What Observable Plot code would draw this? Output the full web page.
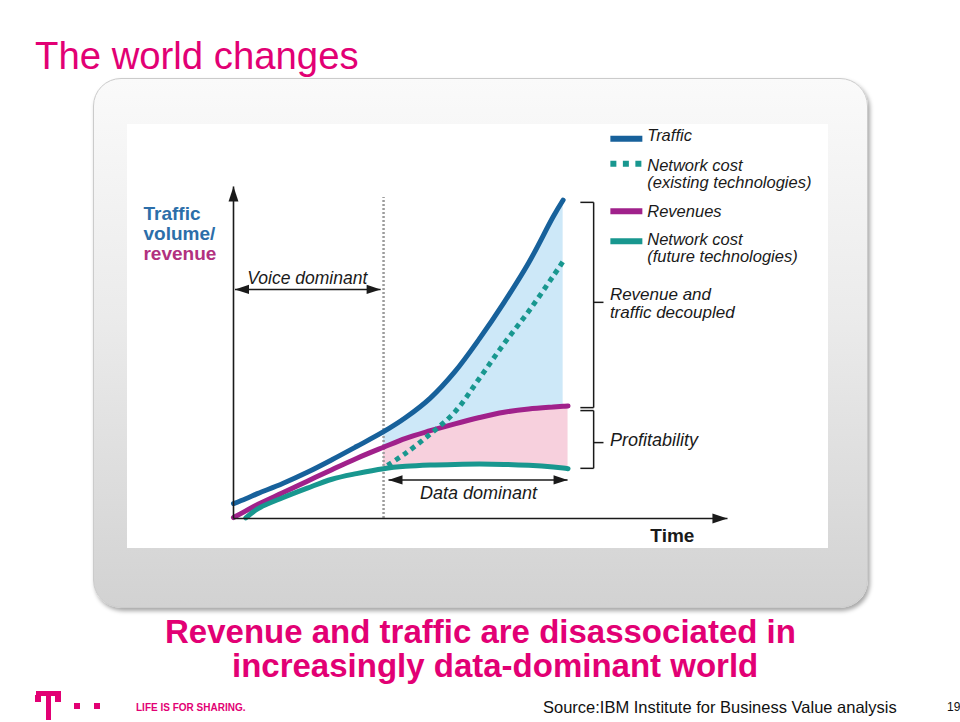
<!DOCTYPE html>
<html>
<head>
<meta charset="utf-8">
<script src="https://cdn.jsdelivr.net/npm/d3@7"></script>
<script src="https://cdn.jsdelivr.net/npm/@observablehq/plot@0.6"></script>
<style>
html, body { margin: 0; padding: 0; background: #fff; }
#page { position: relative; width: 960px; height: 722px; overflow: hidden; font-family: "Liberation Sans", Arial, sans-serif; }
.abs { position: absolute; line-height: 1; white-space: nowrap; }
#title { left: 35px; top: 37px; font-size: 38.3px; color: #e20074; }
#frame { left: 93px; top: 78px; width: 775px; height: 530px; border-radius: 28px; box-sizing: border-box;
  background: linear-gradient(#fafafa, #ebebeb 45%, #d2d2d2); border: 1px solid #cbcbcb;
  box-shadow: 2px 3px 4px rgba(0,0,0,0.35); }
#panel { left: 127px; top: 124px; width: 701px; height: 424px; background: #fff; }
#caption { left: 165px; top: 615px; font-size: 33px; line-height: 34px; font-weight: bold; color: #e20074; }
#caption .l2 { margin-left: 67px; }
#slogan { left: 136px; top: 702.5px; font-size: 10px; font-weight: bold; color: #e20074; }
#source { left: 543px; top: 699px; font-size: 16.5px; color: #111; }
#pageno { left: 947px; top: 701px; font-size: 12px; color: #111; }
.logo { position: absolute; background: #e20074; }
</style>
</head>
<body>
<div id="page">
  <div id="title" class="abs">The world changes</div>
  <div id="frame" class="abs"></div>
  <div id="panel" class="abs"></div>
  <div id="caption" class="abs">Revenue and traffic are disassociated in<br><span class="l2">increasingly data-dominant world</span></div>
  <div class="logo" style="left:36px;top:691px;width:25px;height:5px"></div>
  <div class="logo" style="left:35px;top:695px;width:6px;height:7px"></div>
  <div class="logo" style="left:55px;top:695px;width:6px;height:7px"></div>
  <div class="logo" style="left:45.5px;top:691px;width:5.5px;height:29px"></div>
  <div class="logo" style="left:74px;top:703px;width:6px;height:6px"></div>
  <div class="logo" style="left:94px;top:703px;width:6px;height:6px"></div>
  <div id="slogan" class="abs">LIFE IS FOR SHARING.</div>
  <div id="source" class="abs">Source:IBM Institute for Business Value analysis</div>
  <div id="pageno" class="abs">19</div>
</div>
<script>
// ---- Data (time and value on a 0–100 relative scale) ----
const time       = [0, 2.5, 5, 10, 15, 20, 25, 30.5, 35, 40, 45, 50, 55, 60, 65, 67, 68];
const traffic    = [4.5, 6.0, 7.6, 10.6, 14.0, 17.8, 21.8, 26.3, 30.6, 36.5, 44.5, 54.5, 65.5, 77.5, 91.5, 96.5, null];
const revenues   = [0.3, 2.3, 4.3, 7.8, 11.3, 14.8, 18.2, 21.6, 24.3, 26.6, 28.7, 30.6, 32.2, 33.2, 33.8, 34.0, 34.1];
const costFuture = [null, 0.2, 3.0, 6.3, 9.2, 11.9, 13.6, 15.1, 15.8, 16.2, 16.4, 16.5, 16.4, 16.1, 15.6, 15.3, 15.1];
const existingTime = [31.3, 35, 40, 45, 50, 55, 60, 65, 67.1];
const costExisting = [16.1, 19.8, 25.6, 32.3, 42.5, 53.0, 62.8, 73.5, 78.2];
const voiceDataSplit = 30.5;

const seriesNames = ["Traffic", "Network cost\n(existing technologies)", "Revenues", "Network cost\n(future technologies)"];
const yLabelLines = ["Traffic", "volume/", "revenue"];
const eraLabels = ["Voice dominant", "Data dominant"];
const bracketLabels = ["Revenue and\ntraffic decoupled", "Profitability"];
const xLabel = "Time";

// ---- Styles ----
const C = {
  traffic: "#17619b", revenue: "#a0218b", teal: "#18978f",
  blueFill: "#cde8f8", pinkFill: "#f7d0dd", ink: "#1a1a1a",
  labelBlue: "#2c6ea9", labelMagenta: "#b2317f", split: "#9c9c9c"
};
const FONT = "'Liberation Sans', Arial, sans-serif";
const CURVE = "catmull-rom";

// ---- Tables built from the arrays ----
const rows = time.map((t, i) => ({time: t, traffic: traffic[i], revenue: revenues[i], future: costFuture[i]}));
const existingRows = existingTime.map((t, i) => ({time: t, cost: costExisting[i]}));

// ---- Annotation layout (in scale units) ----
const arrows = [
  {x1: 0, y1: 0, x2: 0, y2: 100.6, w: 1.6, heads: [["up", 0, 100.6]], big: true},
  {x1: 0, y1: 0, x2: 100.4, y2: 0, w: 1.6, heads: [["right", 100.4, 0]], big: true},
  {x1: 0.3, y1: 69.4, x2: 29.9, y2: 69.4, w: 1.5, heads: [["left", 0.3, 69.4], ["right", 29.9, 69.4]], big: false},
  {x1: 31.5, y1: 11.7, x2: 67.9, y2: 11.7, w: 1.5, heads: [["left", 31.5, 11.7], ["right", 67.9, 11.7]], big: false}
];
const heads = arrows.flatMap(a => a.heads.map(([dir, x, y]) => ({dir, x, y, big: a.big})));

const brackets = [
  {x: 73.2, arm: 70.5, tick: 75.2, top: 95.8, bottom: 33.6, mid: 65.5},
  {x: 73.2, arm: 70.5, tick: 75.2, top: 32.7, bottom: 15.2, mid: 23.0}
];
const bracketSegs = brackets.flatMap(b => [
  {x1: b.arm, y1: b.top, x2: b.x, y2: b.top},
  {x1: b.x, y1: b.top, x2: b.x, y2: b.bottom},
  {x1: b.arm, y1: b.bottom, x2: b.x, y2: b.bottom},
  {x1: b.x, y1: b.mid, x2: b.tick, y2: b.mid}
]);

const legend = [
  {label: seriesNames[0], color: C.traffic, dash: null, y: 115.1, base: 114.5},
  {label: seriesNames[1], color: C.teal, dash: "6,6.5", y: 107.5, base: 100.3},
  {label: seriesNames[2], color: C.revenue, dash: null, y: 93.1, base: 91.5},
  {label: seriesNames[3], color: C.teal, dash: null, y: 84.0, base: 77.6}
];
const legendX1 = 76.6, legendX2 = 83.1, legendTextX = 84.1;

function head(dir) {
  return {
    draw(ctx, size) {
      const r = Math.sqrt(size / Math.PI);
      const L = r * 2, w = r * 0.66;
      const p = {
        right: [[0, 0], [-L, -w], [-L, w]],
        left: [[0, 0], [L, -w], [L, w]],
        up: [[0, 0], [-w, L], [w, L]]
      }[dir];
      ctx.moveTo(p[0][0], p[0][1]);
      ctx.lineTo(p[1][0], p[1][1]);
      ctx.lineTo(p[2][0], p[2][1]);
      ctx.closePath();
    }
  };
}
const headMarks = [];
for (const dir of ["up", "right", "left"]) {
  for (const big of [true, false]) {
    const sel = heads.filter(d => d.dir === dir && d.big === big);
    if (sel.length) headMarks.push(Plot.dot(sel, {x: "x", y: "y", r: big ? 7.5 : 7, symbol: head(dir), fill: C.ink, stroke: "none"}));
  }
}

const textBase = {fontFamily: FONT, fill: C.ink};

const chart = Plot.plot({
  width: 701,
  height: 424,
  x: {domain: [0, 100], range: [106, 598], axis: null},
  y: {domain: [0, 100], range: [394, 64], axis: null},
  style: {background: "transparent", overflow: "visible", fontFamily: FONT},
  marks: [
    // filled gaps
    Plot.areaY(rows.filter(d => d.time >= voiceDataSplit && d.traffic != null),
      {x: "time", y1: "revenue", y2: "traffic", fill: C.blueFill, curve: CURVE}),
    Plot.areaY(rows.filter(d => d.time >= voiceDataSplit),
      {x: "time", y1: "future", y2: "revenue", fill: C.pinkFill, curve: CURVE}),
    // voice/data split
    Plot.ruleX([voiceDataSplit], {y1: 0, y2: 97.3, stroke: C.split, strokeWidth: 2.5, strokeDasharray: "2,2"}),
    // series
    Plot.line(rows, {x: "time", y: "revenue", stroke: C.revenue, strokeWidth: 5, curve: CURVE}),
    Plot.line(rows, {x: "time", y: "traffic", stroke: C.traffic, strokeWidth: 5, curve: CURVE}),
    Plot.line(rows, {x: "time", y: "future", stroke: C.teal, strokeWidth: 5, curve: CURVE}),
    Plot.line(existingRows, {x: "time", y: "cost", stroke: C.teal, strokeWidth: 5, strokeDasharray: "5,4.5", strokeLinecap: "butt", curve: CURVE}),
    // axes and arrows
    Plot.link(arrows, {x1: "x1", y1: "y1", x2: "x2", y2: "y2", stroke: C.ink, strokeWidth: d => d.w}),
    ...headMarks,
    // brackets
    Plot.link(bracketSegs, {x1: "x1", y1: "y1", x2: "x2", y2: "y2", stroke: C.ink, strokeWidth: 1.5}),
    // y label
    Plot.text([yLabelLines[0]], {x: -18.3, y: 90.6, text: d => d, textAnchor: "start", lineAnchor: "bottom", fontSize: 19, fontWeight: "bold", fontFamily: FONT, fill: C.labelBlue}),
    Plot.text([yLabelLines[1]], {x: -18.3, y: 84.5, text: d => d, textAnchor: "start", lineAnchor: "bottom", fontSize: 19, fontWeight: "bold", fontFamily: FONT, fill: C.labelBlue}),
    Plot.text([yLabelLines[2]], {x: -18.3, y: 78.4, text: d => d, textAnchor: "start", lineAnchor: "bottom", fontSize: 19, fontWeight: "bold", fontFamily: FONT, fill: C.labelMagenta}),
    // x label
    Plot.text([xLabel], {x: 89.2, y: -7.0, text: d => d, textAnchor: "middle", lineAnchor: "bottom", fontSize: 19, fontWeight: "bold", ...textBase}),
    // era labels
    Plot.text([eraLabels[0]], {x: 15.0, y: 71.2, text: d => d, textAnchor: "middle", lineAnchor: "bottom", fontSize: 17.5, fontStyle: "italic", ...textBase}),
    Plot.text([eraLabels[1]], {x: 49.8, y: 5.8, text: d => d, textAnchor: "middle", lineAnchor: "bottom", fontSize: 18, fontStyle: "italic", ...textBase}),
    // bracket labels
    Plot.text([bracketLabels[0]], {x: 76.5, y: 60.8, text: d => d, textAnchor: "start", lineAnchor: "bottom", lineHeight: 1.03, fontSize: 17, fontStyle: "italic", ...textBase}),
    Plot.text([bracketLabels[1]], {x: 76.5, y: 21.9, text: d => d, textAnchor: "start", lineAnchor: "bottom", fontSize: 18, fontStyle: "italic", ...textBase}),
    // legend
    Plot.link(legend.filter(d => !d.dash), {x1: legendX1, x2: legendX2, y1: "y", y2: "y", stroke: "color", strokeWidth: 6}),
    Plot.link(legend.filter(d => d.dash), {x1: legendX1, x2: legendX2, y1: "y", y2: "y", stroke: "color", strokeWidth: 6, strokeDasharray: "6,6.5"}),
    Plot.text(legend, {x: legendTextX, y: "base", text: "label", textAnchor: "start", lineAnchor: "bottom", lineHeight: 1.03, fontSize: 16.5, fontStyle: "italic", ...textBase})
  ]
});
chart.style.position = "absolute";
chart.style.left = "127px";
chart.style.top = "124px";
document.getElementById("page").appendChild(chart);
</script>
</body>
</html>
